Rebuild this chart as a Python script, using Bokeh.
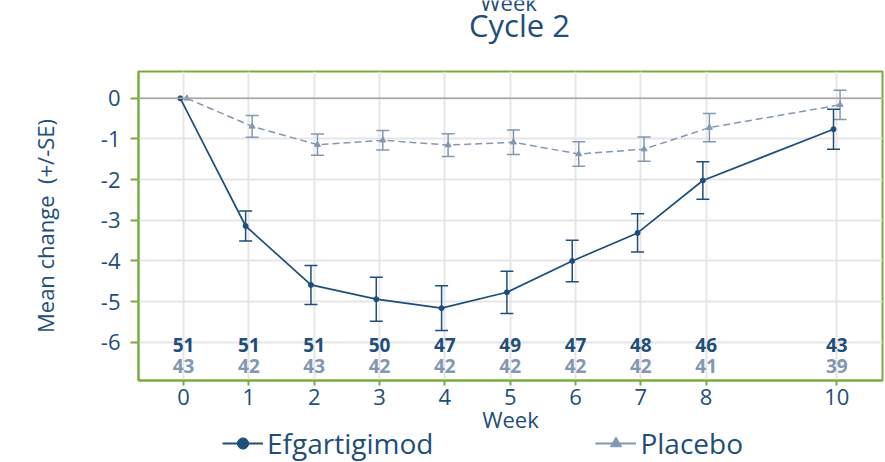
from bokeh.plotting import figure
from bokeh.layouts import column
from bokeh.models import (ColumnDataSource, Whisker, TeeHead, Span, Legend,
                          LegendItem, FixedTicker, Range1d, Label)
from bokeh.embed import file_html
from bokeh.resources import INLINE
from bokeh.core.properties import value

# ---- data ----
weeks = [0, 1, 2, 3, 4, 5, 6, 7, 8, 10]
efg_mean = [0.0, -3.14, -4.59, -4.94, -5.16, -4.77, -4.00, -3.31, -2.02, -0.76]
efg_se = [0.0, 0.37, 0.48, 0.54, 0.55, 0.52, 0.51, 0.47, 0.46, 0.49]
pbo_mean = [0.0, -0.69, -1.14, -1.03, -1.15, -1.08, -1.37, -1.25, -0.72, -0.16]
pbo_se = [0.0, 0.27, 0.26, 0.24, 0.28, 0.30, 0.30, 0.30, 0.35, 0.36]
efg_n = [51, 51, 51, 50, 47, 49, 47, 48, 46, 43]
pbo_n = [43, 42, 43, 42, 42, 42, 42, 42, 41, 39]
y_ticks = [0, -1, -2, -3, -4, -5, -6]
y_tick_labels = ["0", "-1", "-2", "-3", "-4", "-5", "-6"]
x_ticks = weeks
series_names = ["Efgartigimod", "Placebo"]

DARK = "#1f4e79"
GREY = "#8497b0"
GREEN = "#7aab3e"
FONT = "Open Sans"
W = 885
BL, BR = 138, 3          # left / right borders -> frame spans x 138..882
NAN = float("nan")

OFF = 0.05  # horizontal dodge between the two series
efg_x = [w - OFF for w in weeks]
pbo_x = [w + OFF for w in weeks]

efg_src = ColumnDataSource(dict(x=efg_x, y=efg_mean))
pbo_src = ColumnDataSource(dict(x=pbo_x, y=pbo_mean))
efg_err = ColumnDataSource(dict(x=efg_x[1:],
                                lo=[m - s for m, s in zip(efg_mean[1:], efg_se[1:])],
                                hi=[m + s for m, s in zip(efg_mean[1:], efg_se[1:])]))
pbo_err = ColumnDataSource(dict(x=pbo_x[1:],
                                lo=[m - s for m, s in zip(pbo_mean[1:], pbo_se[1:])],
                                hi=[m + s for m, s in zip(pbo_mean[1:], pbo_se[1:])]))

# ---------- header strip (title + stray cut "Week") ----------
TOP_H = 63
top = figure(width=W, height=TOP_H, x_range=Range1d(BL, W - BR), y_range=Range1d(0, TOP_H),
             output_backend="svg", toolbar_location=None, title=None,
             min_border_left=BL, min_border_right=BR, min_border_top=0, min_border_bottom=0,
             x_axis_type=None, y_axis_type=None)
top.outline_line_color = None
top.add_layout(Label(x=519, y=TOP_H - 24, text="Cycle 2", text_font=FONT,
                     text_font_size="31px", text_color=DARK,
                     text_align="center", text_baseline="middle"))
top.add_layout(Label(x=508, y=TOP_H - 1, text="Week", text_font=FONT,
                     text_font_size="22px", text_color=DARK,
                     text_align="center", text_baseline="alphabetic"))

# ---------- main plot ----------
p = figure(frame_width=744, frame_height=309,
           x_range=Range1d(-0.69, 10.7), y_range=Range1d(-6.94, 0.66),
           output_backend="svg", toolbar_location=None, title=None,
           min_border_left=BL, min_border_right=BR, min_border_top=8,
           min_border_bottom=60)

p.outline_line_color = GREEN
p.outline_line_width = 2
p.outline_line_alpha = 1

p.xgrid.ticker = FixedTicker(ticks=x_ticks)
p.ygrid.ticker = FixedTicker(ticks=y_ticks)
for g in (p.xgrid, p.ygrid):
    g.grid_line_color = "#e6e6e6"
    g.grid_line_width = 2

p.xaxis.ticker = FixedTicker(ticks=x_ticks)
p.yaxis.ticker = FixedTicker(ticks=y_ticks)
p.yaxis.major_label_overrides = {t: s for t, s in zip(y_ticks, y_tick_labels)}
for ax in (p.xaxis, p.yaxis):
    ax.axis_line_color = GREEN
    ax.axis_line_width = 2
    ax.major_tick_line_color = GREEN
    ax.major_tick_line_width = 2
    ax.major_tick_in = 0
    ax.minor_tick_line_color = None
    ax.major_label_text_font = FONT
    ax.major_label_text_font_size = "22px"
    ax.major_label_text_color = DARK
    ax.axis_label_text_font = FONT
    ax.axis_label_text_font_size = "22px"
    ax.axis_label_text_font_style = "normal"
    ax.axis_label_text_color = DARK
p.xaxis.major_tick_out = 5
p.xaxis.major_label_standoff = 3
p.xaxis.axis_label = "Week"
p.xaxis.axis_label_standoff = -4
p.yaxis.major_tick_out = 8
p.yaxis.major_label_standoff = 10
p.yaxis.axis_label = "Mean change\u00a0\u00a0(+/-SE)"
p.yaxis.axis_label_standoff = 38

p.add_layout(Span(location=0, dimension="width", line_color="#a6a6a6", line_width=1.5))

# placebo
p.line("x", "y", source=pbo_src, line_color=GREY, line_width=1.5, line_dash="7 4")
p.add_layout(Whisker(source=pbo_err, base="x", lower="lo", upper="hi", dimension="height",
                     line_color=GREY, line_width=1.5,
                     upper_head=TeeHead(size=13, line_color=GREY, line_width=1.5),
                     lower_head=TeeHead(size=13, line_color=GREY, line_width=1.5)))
p.scatter("x", "y", source=pbo_src, marker="triangle", size=6, color=GREY)

# efgartigimod
p.line("x", "y", source=efg_src, line_color=DARK, line_width=1.7)
p.add_layout(Whisker(source=efg_err, base="x", lower="lo", upper="hi", dimension="height",
                     line_color=DARK, line_width=1.5,
                     upper_head=TeeHead(size=13, line_color=DARK, line_width=1.5),
                     lower_head=TeeHead(size=13, line_color=DARK, line_width=1.5)))
p.scatter("x", "y", source=efg_src, marker="circle", size=5, color=DARK)

# n per visit rows
ROW_EFG = -6.07
ROW_PBO = -6.58
p.text(x=weeks, y=[ROW_EFG] * len(weeks), text=[str(n) for n in efg_n],
       text_font=value(FONT), text_font_style="bold", text_font_size="19px",
       text_color=DARK, text_align="center", text_baseline="middle")
p.text(x=weeks, y=[ROW_PBO] * len(weeks), text=[str(n) for n in pbo_n],
       text_font=value(FONT), text_font_style="bold", text_font_size="19px",
       text_color=GREY, text_align="center", text_baseline="middle")

# ---------- legend strip ----------
LEG_H = 42
leg = figure(width=W, height=LEG_H, x_range=Range1d(0, 1), y_range=Range1d(0, 1),
             output_backend="svg", toolbar_location=None, title=None,
             min_border_left=BL, min_border_right=BR, min_border_top=0, min_border_bottom=0,
             x_axis_type=None, y_axis_type=None, margin=(-20, 0, 0, 0))
leg.outline_line_color = None
leg.background_fill_alpha = 0
leg.border_fill_alpha = 0
# legend-only renderers: one NaN point each, so nothing is plotted but the key is drawn
le_l = leg.line(x=[NAN], y=[NAN], line_color=DARK, line_width=2)
le_m = leg.scatter(x=[NAN], y=[NAN], marker="circle", size=10, color=DARK)
lp_l = leg.line(x=[NAN], y=[NAN], line_color=GREY, line_width=2)
lp_m = leg.scatter(x=[NAN], y=[NAN], marker="triangle", size=14, color=GREY)
legend = Legend(items=[LegendItem(label=series_names[0], renderers=[le_l, le_m]),
                       LegendItem(label=series_names[1], renderers=[lp_l, lp_m])],
                orientation="horizontal", location=(222 - BL, 0),
                label_text_font=FONT, label_text_font_size="28px",
                label_text_color=DARK, glyph_width=41, glyph_height=28,
                label_standoff=4, spacing=162, padding=0, margin=0,
                border_line_alpha=0, background_fill_alpha=0)
leg.add_layout(legend, "center")

layout = column(top, p, leg, spacing=0)
open("out.html", "w").write(file_html(layout, INLINE))
